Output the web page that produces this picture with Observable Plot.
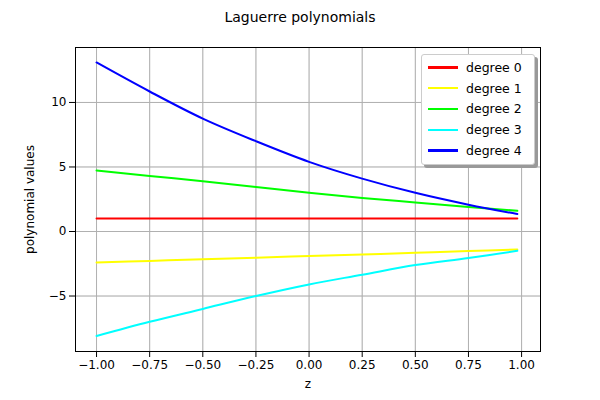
<!DOCTYPE html>
<html><head>
<script src="https://cdn.jsdelivr.net/npm/d3@7"></script>
<script src="https://cdn.jsdelivr.net/npm/@observablehq/plot@0.6"></script>
<style>
body{margin:0;font-family:"DejaVu Sans",sans-serif;background:#fff}
#wrap{position:relative;width:600px;height:400px}
#title{height:30px;line-height:34px;text-align:center;font-size:14px}
#legend{position:absolute;left:421px;top:54px;width:112px;background:#fff;border:1px solid #ccc;border-radius:3px;box-shadow:3px 3px 0 #999;font-size:12.5px;padding:2px 0 3px}
.row{display:flex;align-items:center;height:20.8px}
.sw{width:30px;height:2.5px;margin:0 8px 0 6px}
</style></head><body>
<div id="wrap"><div id="title">Laguerre polynomials</div><div id="chart"></div><div id="legend"></div></div>
<script>
const z = [-1, -0.75, -0.5, -0.25, 0, 0.25, 0.5, 0.75, 0.98];
const degrees = ["degree 0", "degree 1", "degree 2", "degree 3", "degree 4"];
const colors = ["#ff0000", "#ffff00", "#00ff00", "#00ffff", "#0000ff"];
const values = [
  [1, 1, 1, 1, 1, 1, 1, 1, 1],
  [-2.4, -2.28, -2.15, -2.03, -1.9, -1.78, -1.65, -1.52, -1.4],
  [4.73, 4.3, 3.9, 3.45, 3.0, 2.6, 2.25, 1.9, 1.6],
  [-8.1, -7.0, -6.0, -5.0, -4.1, -3.35, -2.6, -2.05, -1.5],
  [13.1, 10.85, 8.75, 7.0, 5.4, 4.1, 3.0, 2.08, 1.35]
];
const rows = degrees.flatMap((d, i) => z.map((x, j) => ({degree: d, z: x, v: values[i][j]})));
const fmt = d => d3.format(".2f")(d).replace("-", "−");
const chart = Plot.plot({
  width: 600, height: 370,
  marginLeft: 75, marginRight: 60, marginTop: 17, marginBottom: 49,
  style: {fontFamily: "DejaVu Sans", fontSize: "12px"},
  x: {domain: [-1.099, 1.089], ticks: d3.range(-1, 1.01, 0.25), tickFormat: fmt, label: "z", labelAnchor: "center", labelArrow: "none", labelOffset: 36, grid: true},
  y: {domain: [-9.3, 14.26], ticks: [-5, 0, 5, 10], tickFormat: d => String(d).replace("-", "−"), label: "polynomial values", labelAnchor: "center", labelArrow: "none", labelOffset: 50, grid: true},
  color: {domain: degrees, range: colors},
  marks: [
    Plot.gridX(d3.range(-1, 1.01, 0.25), {stroke: "#b0b0b0", strokeOpacity: 1}),
    Plot.gridY([-5, 0, 5, 10], {stroke: "#b0b0b0", strokeOpacity: 1}),
    Plot.line(rows, {x: "z", y: "v", stroke: "degree", z: "degree", strokeWidth: 2, curve: "catmull-rom"}),
    Plot.frame({stroke: "black"})
  ]
});
document.getElementById("chart").appendChild(chart);
const lg = document.getElementById("legend");
degrees.forEach((d, i) => {
  lg.innerHTML += `<div class="row"><div class="sw" style="background:${colors[i]}"></div>${d}</div>`;
});
</script></body></html>
